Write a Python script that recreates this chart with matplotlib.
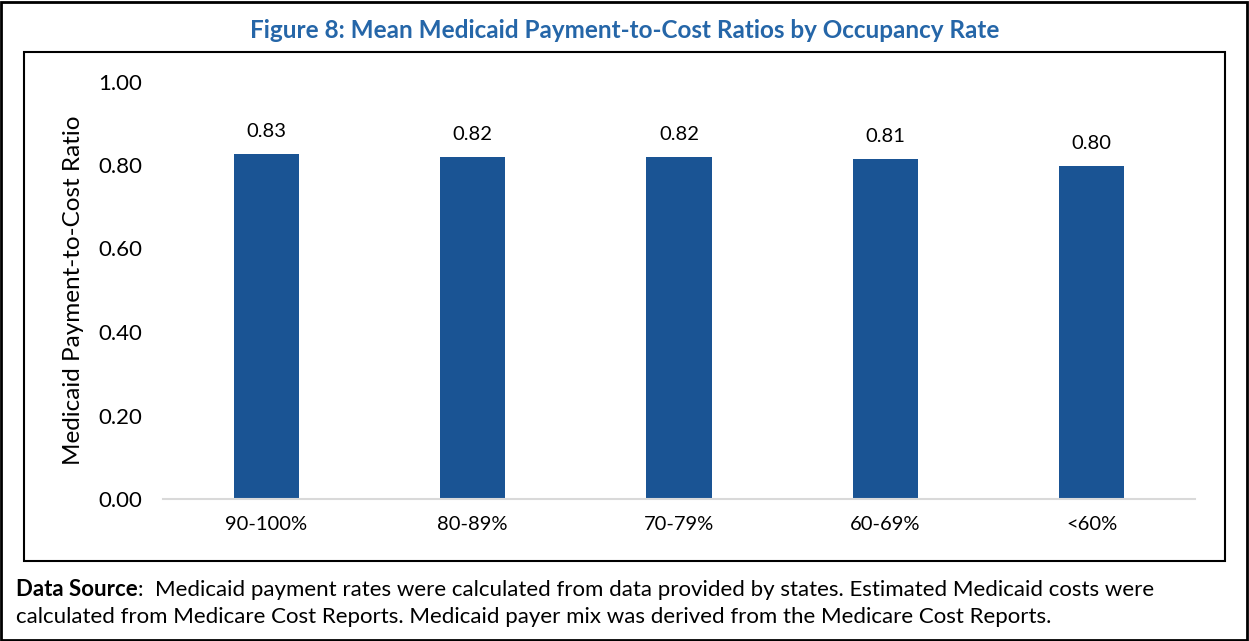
import matplotlib.pyplot as plt
from matplotlib.patches import Rectangle

# Data
categories = ['90-100%', '80-89%', '70-79%', '60-69%', '<60%']
ratios = [0.826, 0.818, 0.818, 0.814, 0.797]
y_ticks = [0.0, 0.2, 0.4, 0.6, 0.8, 1.0]

plt.rcParams['font.family'] = ['Lato', 'DejaVu Sans']

W, H = 1249, 641
fig = plt.figure(figsize=(W / 100, H / 100), dpi=100)

# axes placed in pixel terms (left 163, right 1195, baseline 499, top 81.5)
ax = fig.add_axes([163 / W, 1 - 499 / H, (1195 - 163) / W, (499 - 81.5) / H])
x = range(len(categories))
bars = ax.bar(x, ratios, width=0.315, color='#1A5494')
for b, v in zip(bars, ratios):
    ax.text(b.get_x() + b.get_width() / 2, v + 0.035, f'{v:.2f}',
            ha='center', va='bottom', fontsize=14.5)

ax.set_xlim(-0.5, len(categories) - 0.5)
ax.set_ylim(0, 1.0)
ax.set_yticks(y_ticks)
ax.set_yticklabels([f'{t:.2f}' for t in y_ticks])
ax.set_xticks(list(x))
ax.set_xticklabels(categories)
ax.tick_params(axis='both', length=0, labelsize=14.5)
ax.tick_params(axis='y', pad=15, labelsize=16)
ax.tick_params(axis='x', pad=12)
for s in ['top', 'right', 'left']:
    ax.spines[s].set_visible(False)
ax.spines['bottom'].set_color('#D9D9D9')
ax.spines['bottom'].set_linewidth(1.5)
ax.set_ylabel('Medicaid Payment-to-Cost Ratio', fontsize=17.5, labelpad=10)

# title
fig.text(0.5 * (24 + 1225) / W, 1 - 30 / H,
         'Figure 8: Mean Medicaid Payment-to-Cost Ratios by Occupancy Rate',
         ha='center', va='center', fontsize=17.5, fontweight='bold', color='#2566A8')

# boxes: outer border and inner chart frame
fig.patches.append(Rectangle((1 / W, 1 / H), (W - 3) / W, (H - 3) / H,
                             transform=fig.transFigure, fill=False,
                             edgecolor='black', linewidth=2))
fig.patches.append(Rectangle((24 / W, 1 - 561 / H), (1225 - 24) / W, (561 - 52) / H,
                             transform=fig.transFigure, fill=False,
                             edgecolor='black', linewidth=1.5))

# data source note: bold lead-in, then the rest placed right after it
src = fig.text(16 / W, 1 - 596 / H, 'Data Source', ha='left', va='baseline',
               fontsize=16, fontweight='bold')
fig.canvas.draw()
x_end = src.get_window_extent().x1 / W
fig.text(x_end, 1 - 596 / H,
         ':  Medicaid payment rates were calculated from data provided by states. '
         'Estimated Medicaid costs were',
         ha='left', va='baseline', fontsize=16)
fig.text(16 / W, 1 - 623 / H,
         'calculated from Medicare Cost Reports. Medicaid payer mix was derived from the Medicare Cost Reports.',
         ha='left', va='baseline', fontsize=16)

fig.savefig('out.png', dpi=100)
